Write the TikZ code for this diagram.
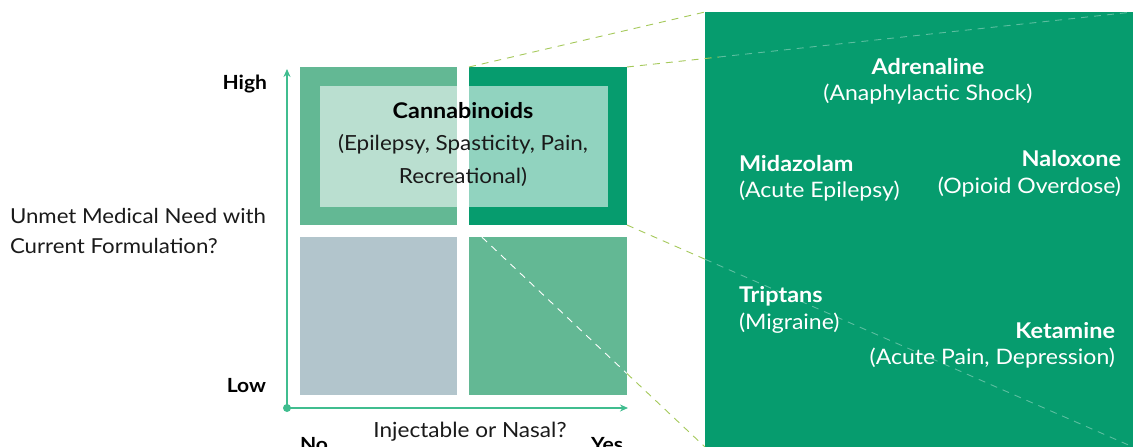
\documentclass[tikz,border=0pt]{standalone}
\usepackage{fontspec}
\setmainfont{Lato}[FakeStretch=1.08]
\usetikzlibrary{calc,arrows.meta}
\definecolor{axisgreen}{HTML}{40BD8F}
\definecolor{midgreen}{HTML}{63B894}
\definecolor{deepgreen}{HTML}{069C6E}
\definecolor{slate}{HTML}{B2C5CC}
\definecolor{zoomline}{HTML}{A5C95A}
\definecolor{ink}{HTML}{1A1A1A}
\newcommand{\fsz}[1]{\fontsize{#1}{#1}\selectfont}
\begin{document}
\begin{tikzpicture}[x=1pt,y=-1pt,
  every node/.style={inner sep=0pt,outer sep=0pt},
  guide/.style={draw=zoomline,dash pattern=on 7pt off 6pt,line width=0.9pt},
  guidein/.style={draw=white,draw opacity=0.35,dash pattern=on 7pt off 6pt,line width=0.9pt},
  guidewhite/.style={draw=white,dash pattern=on 7pt off 6pt,line width=0.9pt},
  axis/.style={draw=axisgreen,line width=2pt,-{Stealth[length=8pt,width=7pt]}},
  axlabel/.style={text=black,font=\fsz{19.5}\bfseries},
  dark/.style={text=ink,anchor=base},
  lite/.style={text=white,font=\fsz{21.3},anchor=base},
  litebold/.style={text=white,font=\fsz{21.7}\bfseries,anchor=base},
]
\useasboundingbox (0,0) rectangle (1133,447);
\fill[white] (0,0) rectangle (1133,447);

% magnified panel
\fill[deepgreen] (705,12) rectangle (1133,447);
\coordinate (pTL) at (705,12);
\coordinate (pTR) at (1133,12);
\coordinate (pBL) at (705,447);
\coordinate (pBR) at (1133,447);

% quadrants
\fill[midgreen] (300,67) rectangle (457,225);
\fill[deepgreen] (469,67) rectangle (627,225);
\fill[slate] (300,237) rectangle (457,395);
\fill[midgreen] (469,237) rectangle (627,395);
\fill[white,fill opacity=0.56] (320,86) rectangle (608,207);
\coordinate (qTL) at (469,67);
\coordinate (qTR) at (627,67);
\coordinate (qBL) at (469,225);
\coordinate (qBR) at (627,225);

% zoom guides from the highlighted quadrant to the panel
\path[guide] (qTL) -- (pTL);
\path[guide] (qTR) -- ($(qTR)!0.1822!(pTR)$);
\path[guidein] ($(qTR)!0.1822!(pTR)$) -- (pTR);
\path[guide] (qBR) -- ($(qBR)!0.1541!(pBR)$);
\path[guidein] ($(qBR)!0.1541!(pBR)$) -- (pBR);
\path[guidewhite] ($(qBL)!0.055!(pBL)$) -- ($(qBL)!0.669!(pBL)$);
\path[guide] ($(qBL)!0.669!(pBL)$) -- (pBL);

% axes
\coordinate (origin) at (287,408);
\coordinate (ytip) at (287,69);
\coordinate (xtip) at (628,408);
\draw[axis] (origin) -- (ytip);
\draw[axis] (origin) -- (xtip);
\fill[axisgreen] (origin) circle (4pt);

% axis labels
\node[axlabel,anchor=base east] (high) at (267,89) {High};
\node[axlabel,anchor=base east] (low) at (266,392) {Low};
\node[axlabel,anchor=base west] (no) at (300,451) {No};
\node[axlabel,anchor=base east] (yes) at (623,451) {Yes};
\node[dark,font=\fsz{20.9}] (xlab) at (470,437) {Injectable or Nasal?};
\node[dark,font=\fsz{20.6},anchor=base west] (ylab1) at (10,223) {Unmet Medical Need with};
\node[dark,font=\fsz{20.6},anchor=base west] (ylab2) at (10,253) {Current Formulation?};

% highlighted quadrant label
\node[dark,font=\fsz{21.6}\bfseries,text=black] (can) at (463,118) {Cannabinoids};
\node[dark,font=\fsz{20.8}] (can2) at (463,150) {(Epilepsy, Spasticity, Pain,};
\node[dark,font=\fsz{20.8}] (can3) at (463,183) {Recreational)};

% panel entries
\node[litebold] (adr) at (928,74) {Adrenaline};
\node[lite] (adr2) at (928,100) {(Anaphylactic Shock)};
\node[litebold,anchor=base west] (mid) at (739,171) {Midazolam};
\node[lite,anchor=base west] (mid2) at (739,197) {(Acute Epilepsy)};
\node[litebold,anchor=base east] (nal) at (1121,166) {Naloxone};
\node[lite,anchor=base east] (nal2) at (1121,193) {(Opioid Overdose)};
\node[litebold,anchor=base west] (tri) at (739,302) {Triptans};
\node[lite,anchor=base west] (tri2) at (739,329) {(Migraine)};
\node[litebold,anchor=base east] (ket) at (1115,338) {Ketamine};
\node[lite,anchor=base east] (ket2) at (1115,364) {(Acute Pain, Depression)};
\end{tikzpicture}
\end{document}
